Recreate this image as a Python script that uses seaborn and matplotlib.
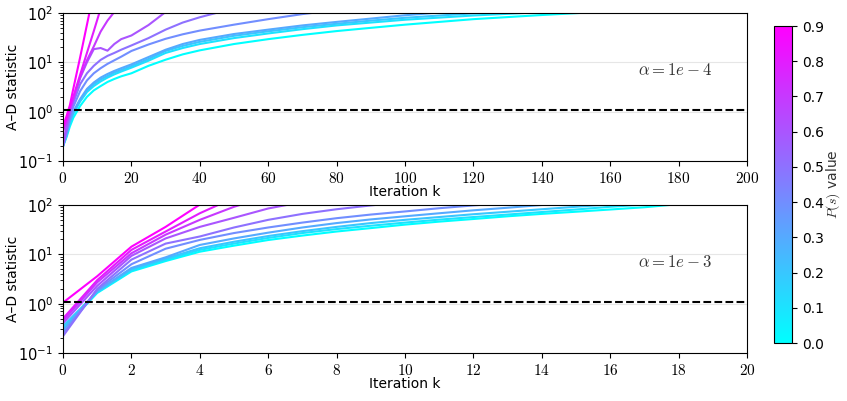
import numpy as np
import pandas as pd
import matplotlib
matplotlib.use("Agg")
import matplotlib.pyplot as plt
import seaborn as sns
from matplotlib.ticker import FuncFormatter, MultipleLocator

plt.rcParams["mathtext.fontset"] = "cm"
plt.rcParams["font.size"] = 10

p_values = [0.0, 0.1, 0.2, 0.3, 0.4, 0.5, 0.6, 0.7, 0.8, 0.9]
crit = 1.1

# alpha = 1e-4, sampled iterations
k_top = [0, 1, 2, 3, 5, 7, 9, 11, 13, 15, 17, 20, 25, 30, 35, 40, 50, 60,
         70, 80, 90, 100, 120, 140, 160]
top_00 = [0.2, 0.3, 0.5, 0.75, 1.3, 2.0, 2.7, 3.3, 4.0, 4.6, 5.2, 6.0, 8.5,
          11.3, 14.5, 17.5, 23.5, 29.5, 36, 43, 50, 58, 75, 91, 108]
top_01 = [0.2, 0.32, 0.58, 0.9, 1.6, 2.5, 3.3, 4.1, 4.9, 5.7, 6.5, 7.8, 10.8,
          15.5, 19.5, 23.5, 31, 38.5, 47, 56, 64, 73, 89, 104]
top_02 = [0.2, 0.33, 0.62, 0.95, 1.7, 2.7, 3.6, 4.5, 5.3, 6.2, 7.0, 8.4, 11.7,
          17, 21.5, 26, 34.5, 42.5, 51.5, 60.5, 70, 80, 98.5, 114]
top_03 = [0.2, 0.34, 0.65, 1.0, 1.8, 2.9, 3.9, 4.9, 5.8, 6.7, 7.6, 9.1, 12.8,
          18, 23.5, 28.5, 37.5, 46, 56, 66, 77, 90, 116]
top_04 = [0.2, 0.38, 0.75, 1.25, 2.6, 4.3, 6.0, 7.6, 9.3, 11, 13, 17, 23, 30,
          37, 44, 58, 75, 95, 115]
top_05 = [0.2, 0.4, 0.85, 1.5, 3.6, 6.0, 8.5, 11.2, 13.5, 15.5, 18, 22, 31,
          46, 64, 82, 125]
top_06 = [0.22, 0.5, 1.0, 1.8, 4.8, 10, 18.5, 19.5, 17.2, 23.5, 29.5, 35, 57, 105]
top_07 = [0.4, 0.6, 1.1, 1.8, 5.0, 11, 21, 42, 70, 105]
top_08 = [0.45, 0.7, 1.2, 2.0, 5.6, 15.6, 43, 122]
top_09 = [0.5, 0.8, 1.35, 2.9, 12.6, 58, 270]

# alpha = 1e-3, every iteration
k_bot = list(range(21))
bot_00 = [0.30, 1.65, 4.5, 7.3, 11.3, 15, 19.5, 24, 29, 34, 40, 46, 52, 59,
          66, 73, 81, 90, 104]
bot_01 = [0.33, 1.7, 4.7, 7.7, 12.3, 16.5, 21.5, 27, 32.5, 38, 44, 50.5, 57,
          64, 72, 81, 92, 102]
bot_02 = [0.35, 1.75, 5.0, 8.2, 13.3, 18, 23.5, 29.5, 36, 43, 50, 57, 65, 73,
          82, 92, 103]
bot_03 = [0.29, 1.8, 5.3, 8.7, 15.5, 21, 27.5, 35, 43, 51, 59, 68, 78, 88,
          100, 112]
bot_04 = [0.25, 1.9, 6.3, 13, 19.6, 27, 35, 44, 54, 64, 74, 86, 98, 110]
bot_05 = [0.22, 2.0, 7.8, 16.5, 23, 35, 50, 66, 82, 98, 115]
bot_06 = [0.4, 2.3, 9.3, 21, 36, 55, 85, 115]
bot_07 = [0.45, 2.7, 10.5, 25, 50, 92, 150]
bot_08 = [0.5, 3.0, 12.3, 29, 68, 140]
bot_09 = [1.05, 3.6, 14.3, 36, 102, 200]

top_lines = [top_00, top_01, top_02, top_03, top_04, top_05, top_06, top_07, top_08, top_09]
bot_lines = [bot_00, bot_01, bot_02, bot_03, bot_04, bot_05, bot_06, bot_07, bot_08, bot_09]


def to_frame(k, lines):
    rows = []
    for p, vals in zip(p_values, lines):
        for kk, v in zip(k, vals):
            rows.append((kk, v, p))
    return pd.DataFrame(rows, columns=["k", "stat", "p"])


def panel(ax, k, lines, xmax, step, alpha_txt):
    df = to_frame(k, lines)
    sns.lineplot(data=df, x="k", y="stat", hue="p", palette="cool",
                 hue_norm=(0, 0.9), estimator=None, legend=False,
                 linewidth=1.5, ax=ax)
    ax.axhline(crit, color="k", ls="--", lw=1.5)
    ax.set_yscale("log")
    ax.set_ylim(0.1, 100)
    ax.set_xlim(0, xmax)
    ax.xaxis.set_major_locator(MultipleLocator(step))
    ax.xaxis.set_major_formatter(FuncFormatter(lambda v, pos: f"${v:g}$"))
    ax.tick_params(axis="x", labelsize=11)
    ax.tick_params(axis="y", labelsize=10.5)
    ax.yaxis.grid(True, which="major", color="#e6e6e6", lw=0.8)
    ax.set_axisbelow(True)
    ax.set_xlabel("Iteration k", labelpad=-0.5)
    ax.set_ylabel("A–D statistic")
    ax.yaxis.set_label_coords(-0.063, 0.5)
    ax.text(0.84, 0.615, alpha_txt, transform=ax.transAxes, va="center",
            ha="left", color="0.2", fontsize=12)


fig = plt.figure(figsize=(8.47, 4.01), dpi=100)
ax1 = fig.add_axes([0.0744, 0.5985, 0.8076, 0.3691])
ax2 = fig.add_axes([0.0744, 0.1197, 0.8076, 0.3691])
panel(ax1, k_top, top_lines, 200, 20, r"$\alpha = 1e-4$")
panel(ax2, k_bot, bot_lines, 20, 2, r"$\alpha = 1e-3$")

cax = fig.add_axes([0.9138, 0.1446, 0.0213, 0.7905])
sm = plt.cm.ScalarMappable(norm=plt.Normalize(0, 0.9), cmap="cool")
cb = fig.colorbar(sm, cax=cax, ticks=np.arange(0, 0.95, 0.1))
cb.ax.yaxis.set_major_formatter(FuncFormatter(lambda v, pos: f"{v:.1f}"))
cb.set_label("$P(s)$ value", color="0.2", labelpad=0)

fig.savefig("out.png", dpi=100)
